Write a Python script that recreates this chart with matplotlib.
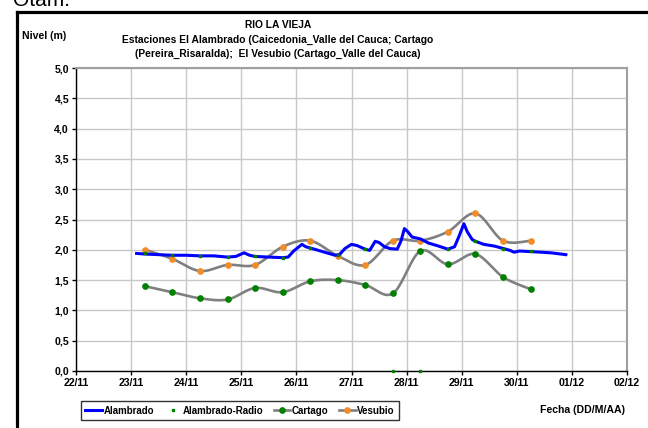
import numpy as np
import matplotlib
matplotlib.use("Agg")
import matplotlib.pyplot as plt
import matplotlib.dates as mdates
from matplotlib.lines import Line2D
from datetime import datetime, timedelta

plt.rcParams['font.family'] = ['Liberation Sans', 'DejaVu Sans']

# ---------------- data (day of month, counted from 1 Nov) ----------------
alambrado_day = [23.10, 23.25, 23.50, 23.75, 24.00, 24.25, 24.50, 24.75, 24.90, 25.05,
                 25.15, 25.25, 25.50, 25.75, 25.85, 25.95, 26.10, 26.17, 26.25, 26.40,
                 26.55, 26.70, 26.78, 26.88, 27.00, 27.10, 27.25, 27.33, 27.43, 27.50,
                 27.60, 27.70, 27.83, 27.90, 27.96, 28.02, 28.10, 28.25, 28.40, 28.55,
                 28.75, 28.87, 28.95, 29.04, 29.10, 29.19, 29.25, 29.40, 29.60, 29.76,
                 29.88, 29.95, 30.05, 30.25, 30.45, 30.62, 30.80, 30.89]
alambrado_val = [1.94, 1.93, 1.92, 1.91, 1.91, 1.90, 1.90, 1.88, 1.89, 1.95,
                 1.91, 1.89, 1.88, 1.87, 1.88, 1.98, 2.09, 2.05, 2.03, 1.99,
                 1.95, 1.91, 1.92, 2.02, 2.09, 2.07, 2.01, 1.99, 2.14, 2.12,
                 2.05, 2.02, 2.01, 2.15, 2.35, 2.30, 2.21, 2.18, 2.11, 2.07,
                 2.01, 2.05, 2.22, 2.43, 2.30, 2.17, 2.14, 2.09, 2.06, 2.02,
                 1.99, 1.96, 1.98, 1.97, 1.96, 1.95, 1.93, 1.92]

obs_day = [23.25, 23.75, 24.25, 24.75, 25.25, 25.75, 26.25, 26.75,
           27.25, 27.75, 28.25, 28.75, 29.25, 29.75, 30.25]
radio_val = [1.94, 1.91, 1.90, 1.875, 1.89, 1.87, 2.03, 1.91,
             2.01, 0.0, 0.0, 2.01, 2.14, 2.02, 1.975]
cartago_val = [1.40, 1.30, 1.20, 1.18, 1.37, 1.30, 1.48, 1.50,
               1.42, 1.28, 1.98, 1.76, 1.93, 1.55, 1.35]
vesubio_val = [2.00, 1.85, 1.65, 1.75, 1.75, 2.05, 2.15, 1.90,
               1.75, 2.15, 2.15, 2.30, 2.60, 2.15, 2.15]

x_ticks_day = list(range(22, 33))
y_ticks = [0.0, 0.5, 1.0, 1.5, 2.0, 2.5, 3.0, 3.5, 4.0, 4.5, 5.0]

title_lines = ["RIO LA VIEJA",
               "Estaciones El Alambrado (Caicedonia_Valle del Cauca; Cartago",
               "(Pereira_Risaralda);  El Vesubio (Cartago_Valle del Cauca)"]
legend_labels = ["Alambrado", "Alambrado-Radio", "Cartago", "Vesubio"]

# ---------------- helpers ----------------
base = datetime(2011, 11, 1)


def to_num(days):
    return np.array([mdates.date2num(base + timedelta(days=d - 1)) for d in days])


def smooth(x, y, n=20):
    """Excel-style smoothed line (Catmull-Rom / Bezier) through the points."""
    x = np.asarray(x, float)
    y = np.asarray(y, float)
    px = np.concatenate([[x[0]], x, [x[-1]]])
    py = np.concatenate([[y[0]], y, [y[-1]]])
    xs, ys = [], []
    t = np.linspace(0, 1, n, endpoint=False)
    for i in range(1, len(px) - 2):
        p0x, p1x, p2x, p3x = px[i - 1], px[i], px[i + 1], px[i + 2]
        p0y, p1y, p2y, p3y = py[i - 1], py[i], py[i + 1], py[i + 2]
        c1x = p1x + (p2x - p0x) / 6
        c1y = p1y + (p2y - p0y) / 6
        c2x = p2x - (p3x - p1x) / 6
        c2y = p2y - (p3y - p1y) / 6
        bx = (1 - t) ** 3 * p1x + 3 * (1 - t) ** 2 * t * c1x + 3 * (1 - t) * t ** 2 * c2x + t ** 3 * p2x
        by = (1 - t) ** 3 * p1y + 3 * (1 - t) ** 2 * t * c1y + 3 * (1 - t) * t ** 2 * c2y + t ** 3 * p2y
        xs.extend(bx)
        ys.extend(by)
    xs.append(x[-1])
    ys.append(y[-1])
    return np.array(xs), np.array(ys)


# ---------------- figure ----------------
W, H = 648, 428
fig = plt.figure(figsize=(W / 100, H / 100), dpi=100)


def fx(px):
    return px / W


def fy(py):
    return 1 - py / H


ax = fig.add_axes([fx(76), fy(371), fx(627) - fx(76), fy(68) - fy(371)])

gray = '#808080'
orange = '#F28C28'
green = '#008000'
blue = '#0000FF'

xa = to_num(alambrado_day)
xo = to_num(obs_day)

# Cartago
sx, sy = smooth(xo, cartago_val)
ax.plot(sx, sy, color=gray, lw=1.9, solid_capstyle='round', zorder=3)
ax.plot(xo, cartago_val, 'o', color=green, ms=3.8, mec=green, zorder=4)
# Vesubio
sx, sy = smooth(xo, vesubio_val)
ax.plot(sx, sy, color=gray, lw=1.9, solid_capstyle='round', zorder=3)
ax.plot(xo, vesubio_val, 'o', color=orange, ms=3.8, mec=orange, zorder=4)
# Alambrado
ax.plot(xa, alambrado_val, color=blue, lw=2.2, zorder=5)
# Alambrado-Radio
ax.plot(xo, radio_val, 's', color=green, ms=1.6, mec=green, zorder=6, clip_on=False)

xt = to_num(x_ticks_day)
ax.set_xlim(xt[0], xt[-1])
ax.set_ylim(0, 5)
ax.set_xticks(xt)
ax.xaxis.set_major_formatter(mdates.DateFormatter('%d/%m'))
ax.set_yticks(y_ticks)
ax.set_yticklabels([f"{v:.1f}".replace('.', ',') for v in y_ticks])
ax.grid(True, color='#c8c8c8', lw=1.0)
ax.set_axisbelow(True)
ax.tick_params(axis='both', direction='out', length=3, width=1, color='black',
               labelsize=7.6, pad=2)
for lab in ax.get_xticklabels() + ax.get_yticklabels():
    lab.set_fontweight('bold')
ax.spines['left'].set_color('black')
ax.spines['bottom'].set_color('black')
ax.spines['left'].set_linewidth(1.0)
ax.spines['bottom'].set_linewidth(1.0)
ax.spines['top'].set_color('#a0a0a0')
ax.spines['right'].set_color('#a0a0a0')
ax.spines['top'].set_linewidth(1.5)
ax.spines['right'].set_linewidth(1.5)

# titles
for t, y in zip(title_lines, [25, 40, 54]):
    fig.text(fx(278), fy(y), t, ha='center', va='center', fontsize=7.4,
             fontweight='bold')
fig.text(fx(22), fy(36), "Nivel (m)", ha='left', va='center', fontsize=7.6,
         fontweight='bold')
fig.text(fx(540), fy(410), "Fecha (DD/M/AA)", ha='left', va='center',
         fontsize=7.6, fontweight='bold')

# text partly outside the top edge (as in the reference)
fig.text(fx(13), fy(6), "Otam.", ha='left', va='baseline', fontsize=15)

# outer frame
fig.add_artist(Line2D([fx(17), fx(17)], [fy(11.5), -0.1], color='black', lw=2.3,
                      transform=fig.transFigure))
fig.add_artist(Line2D([fx(17), 1.1], [fy(11.5), fy(11.5)], color='black', lw=2.3,
                      transform=fig.transFigure))

# legend
handles = [
    Line2D([], [], color=blue, lw=2.2),
    Line2D([], [], ls='none', marker='s', color=green, ms=1.6),
    Line2D([], [], color=gray, lw=1.9, marker='o', mfc=green, mec=green, ms=3.8),
    Line2D([], [], color=gray, lw=1.9, marker='o', mfc=orange, mec=orange, ms=3.8),
]
leg = fig.legend(handles, legend_labels, loc='center',
                 bbox_to_anchor=(fx(240), fy(410.5)),
                 ncol=4, frameon=True, fancybox=False, edgecolor='black',
                 prop={'weight': 'bold', 'size': 7.0},
                 handlelength=1.7, handletextpad=0.15, columnspacing=1.1,
                 borderpad=0.45, borderaxespad=0, markerscale=1)
leg.get_frame().set_linewidth(1.0)

fig.savefig('out.png', dpi=100)
